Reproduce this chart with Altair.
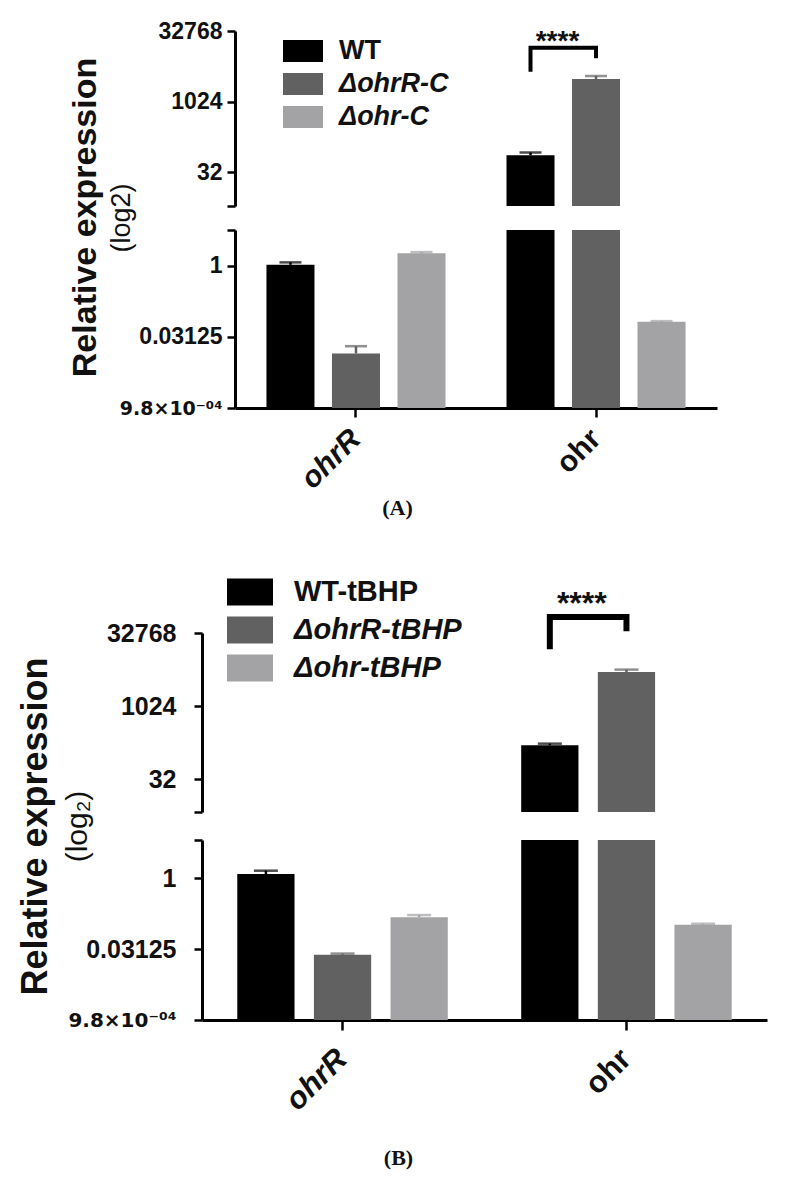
import altair as alt
import pandas as pd

# ---------------- data ----------------
genes = ["ohrR", "ohr"]

strains_a = ["WT", "ΔohrR-C", "Δohr-C"]
mean_a_ohrR = [1.04, 0.0139, 1.82]
mean_a_ohr = [73.5, 3091.0, 0.065]
upper_a_ohrR = [1.17, 0.0198, 1.93]
upper_a_ohr = [83.9, 3590.0, 0.067]

strains_b = ["WT-tBHP", "ΔohrR-tBHP", "Δohr-tBHP"]
mean_b_ohrR = [1.216, 0.0235, 0.148]
mean_b_ohr = [158.6, 5144.0, 0.102]
upper_b_ohrR = [1.43, 0.025, 0.164]
upper_b_ohr = [171.8, 5766.0, 0.107]

bar_colors = ["#000000", "#616161", "#a3a3a5"]

upper_tick_values = [32, 1024, 32768]
upper_tick_labels = ["32", "1024", "32768"]
lower_tick_values = [0.0009765625, 0.03125, 1]
lower_tick_labels = ["9.8×10⁻⁰⁴", "0.03125", "1"]

# broken-axis segments (log2 scale)
a_upper_domain = [6.06, 32768]
a_lower_domain = [0.0009765625, 5.66]
b_upper_domain = [6.7, 32768]
b_lower_domain = [0.0009765625, 6.4]

# significance brackets
bracket_order = [0, 1, 2, 3]
bracket_a_strain = ["WT", "WT", "ΔohrR-C", "ΔohrR-C"]
bracket_a_y = [4427, 14420, 14420, 8550]
bracket_b_strain = ["WT-tBHP", "WT-tBHP", "ΔohrR-tBHP", "ΔohrR-tBHP"]
bracket_b_y = [15100, 70000, 70000, 35400]
stars_text = ["****"]
stars_a_y = [13050]
stars_b_y = [81700]

FONT = "Liberation Sans"


def bars_df(strains, m1, m2, u1, u2):
    rows = []
    for g, ms, us in [("ohrR", m1, u1), ("ohr", m2, u2)]:
        for s, m, u in zip(strains, ms, us):
            rows.append({"gene": g, "strain": s, "mean": m, "upper": u})
    return pd.DataFrame(rows)


def label_expr(values, labels):
    expr = "''"
    for v, lab in zip(values, labels):
        expr = f"abs(datum.value - {v}) < {v * 1e-4} ? '{lab}' : ({expr})"
    return expr


def panel(df, strains, up_dom, lo_dom, g, bracket_df, stars_df):
    left = g["left"]
    width = left + g["plot_w"]
    x_scale = alt.Scale(paddingInner=g["pi"], paddingOuter=g["po"], range=[left, width])
    xo = alt.XOffset("strain:N", sort=strains,
                     scale=alt.Scale(paddingInner=g["pi2"], paddingOuter=g["po2"]))
    half = g["sym_h"]
    legend = alt.Legend(
        orient="none", legendX=left + g["leg_x"], legendY=g["leg_y"], title=None,
        symbolType=f"M-1,-{half}H1V{half}H-1Z", symbolSize=g["sym_size"],
        symbolStrokeWidth=0, symbolOpacity=1, labelFont=FONT,
        labelFontSize=g["leg_fs"], labelFontWeight="bold", labelColor="#111",
        labelOffset=g["leg_off"], rowPadding=g["leg_row"], padding=0, labelLimit=400,
        labelFontStyle={"expr": "indexof(datum.label, 'Δ') >= 0 ? 'italic' : 'normal'"},
    )

    def color(leg):
        return alt.Color("strain:N", sort=strains,
                         scale=alt.Scale(domain=strains, range=bar_colors), legend=leg)

    small_test = "datum.value < 0.002"
    ycommon = dict(domainColor="black", domainWidth=3, tickColor="black", tickWidth=2.5,
                   tickSize=8, labelFontWeight="bold", labelColor="#111",
                   labelPadding=g["lab_pad"],
                   labelFont={"condition": {"test": small_test, "value": "DejaVu Sans"},
                              "value": FONT},
                   labelFontSize={"condition": {"test": small_test, "value": g["tick_fs_small"]},
                                  "value": g["tick_fs"]},
                   labelOverlap=False, labelFlush=False, grid=False, titleAngle=-90,
                   titleAlign="center", titleBaseline="bottom", titleColor="#111",
                   titleFont=FONT, offset=-left)
    up_axis = alt.Axis(values=[up_dom[0]] + upper_tick_values,
                       labelExpr=label_expr(upper_tick_values, upper_tick_labels),
                       title=g["sub_title"], titleFontSize=g["sub_fs"],
                       titleFontWeight="normal", titleX=g["sub_x"], titleY=g["sub_y"],
                       **ycommon)
    lo_axis = alt.Axis(values=lower_tick_values + [lo_dom[1]],
                       labelExpr=label_expr(lower_tick_values, lower_tick_labels),
                       title="Relative expression", titleFontSize=g["main_fs"],
                       titleFontWeight="bold", titleX=g["main_x"], titleY=g["main_y"],
                       **ycommon)
    x_axis = alt.Axis(
        title=g["caption"], titleFont="Liberation Serif", titleFontSize=22,
        titleFontWeight="bold", titleColor="#111", titleX=g["cap_x"], titleY=g["cap_y"],
        titleAngle=0, titleAlign="center", titleBaseline="middle",
        domainColor="black", domainWidth=3, tickColor="black", tickWidth=2.5,
        tickSize=g["xtick"], bandPosition=0.5, labelAngle=-45, labelAlign="right",
        labelBaseline="middle", labelFont=FONT, labelFontSize=g["xlab_fs"],
        labelFontWeight="bold",
        labelFontStyle={"condition": {"test": "datum.value == 'ohrR'", "value": "italic"},
                        "value": "normal"},
        labelColor="#111", labelPadding=g["xlab_pad"], labelOverlap=False)

    # upper segment
    x_up = alt.X("gene:N", sort=genes, scale=x_scale, axis=None)
    y_up = alt.Y("mean:Q", axis=up_axis,
                 scale=alt.Scale(type="log", base=2, domain=up_dom, nice=False, zero=False))
    base_up = alt.Chart(df).encode(x=x_up, xOffset=xo)
    upper = alt.layer(
        base_up.mark_bar(clip=True).encode(y=y_up, y2=alt.datum(1e-9), color=color(legend)),
        base_up.mark_rule(clip=True, strokeWidth=2.5).encode(
            y="mean:Q", y2="upper:Q", color=color(legend)),
        base_up.mark_tick(clip=True, thickness=2.5, size=g["cap"], orient="horizontal").encode(
            y="upper:Q", color=color(legend)),
        alt.Chart(bracket_df).mark_line(color="black", strokeWidth=g["br_w"], clip=False).encode(
            x=x_up, xOffset=xo, y="y:Q", order="i:O"),
        alt.Chart(stars_df).mark_text(font=FONT, fontSize=g["star_fs"], fontWeight="bold",
                                      baseline="alphabetic", align="center", dx=g["star_dx"],
                                      color="#111", clip=False).encode(
            x=x_up, xOffset=xo, y="y:Q", text="t:N"),
    ).properties(width=width, height=g["h_up"])

    # lower segment
    x_lo = alt.X("gene:N", sort=genes, scale=x_scale, axis=x_axis)
    y_lo = alt.Y("mean:Q", axis=lo_axis,
                 scale=alt.Scale(type="log", base=2, domain=lo_dom, nice=False, zero=False))
    base_lo = alt.Chart(df).encode(x=x_lo, xOffset=xo)
    lower = alt.layer(
        base_lo.mark_bar(clip=True).encode(y=y_lo, y2=alt.datum(1e-9), color=color(None)),
        base_lo.mark_rule(clip=True, strokeWidth=2.5).encode(
            y="mean:Q", y2="upper:Q", color=color(None)),
        base_lo.mark_tick(clip=True, thickness=2.5, size=g["cap"], orient="horizontal").encode(
            y="upper:Q", color=color(None)),
    ).properties(width=width, height=g["h_lo"])
    return upper, lower


def spacer(h):
    return alt.Chart(pd.DataFrame({"v": [0]})).mark_point(opacity=0).encode(
        x=alt.value(0), y=alt.value(0)).properties(width=1, height=h)


df_a = bars_df(strains_a, mean_a_ohrR, mean_a_ohr, upper_a_ohrR, upper_a_ohr)
df_b = bars_df(strains_b, mean_b_ohrR, mean_b_ohr, upper_b_ohrR, upper_b_ohr)

br_a = pd.DataFrame({"gene": "ohr", "strain": bracket_a_strain, "y": bracket_a_y, "i": bracket_order})
br_b = pd.DataFrame({"gene": "ohr", "strain": bracket_b_strain, "y": bracket_b_y, "i": bracket_order})
st_a = pd.DataFrame({"gene": ["ohr"], "strain": [strains_a[0]], "y": stars_a_y, "t": stars_text})
st_b = pd.DataFrame({"gene": ["ohr"], "strain": [strains_b[0]], "y": stars_b_y, "t": stars_text})

geo_a = dict(left=33, plot_w=482, h_up=175, h_lo=178,
             pi=0.181, po=0.0945, pi2=0.267, po2=0.134, sym_h=0.55, sym_size=1600,
             leg_x=48, leg_y=0, leg_fs=27, leg_off=16, leg_row=0,
             tick_fs=23, tick_fs_small=19, lab_pad=5,
             sub_title="(log2)", sub_fs=27, sub_x=-100, sub_y=186.5,
             main_fs=34, main_x=-133, main_y=-13,
             caption="(A)", cap_x=195, cap_y=99, xtick=9, xlab_fs=30, xlab_pad=17,
             cap=22, br_w=4, star_fs=28, star_dx=27)
geo_b = dict(left=0, plot_w=565, h_up=179, h_lo=180,
             pi=0.19, po=0.09, pi2=0.253, po2=0.127, sym_h=0.587, sym_size=2116,
             leg_x=25, leg_y=-64, leg_fs=29, leg_off=21, leg_row=0,
             tick_fs=25, tick_fs_small=20, lab_pad=18,
             sub_title="(log₂)", sub_fs=30, sub_x=-110, sub_y=193,
             main_fs=36, main_x=-147.5, main_y=-14,
             caption="(B)", cap_x=196, cap_y=137, xtick=10, xlab_fs=31, xlab_pad=24,
             cap=24, br_w=6, star_fs=32, star_dx=32)

up_a, lo_a = panel(df_a, strains_a, a_upper_domain, a_lower_domain, geo_a, br_a, st_a)
up_b, lo_b = panel(df_b, strains_b, b_upper_domain, b_lower_domain, geo_b, br_b, st_b)

chart = alt.vconcat(
    up_a, spacer(24), lo_a, spacer(225), up_b, spacer(28), lo_b,
    spacing=0, bounds="flush",
).resolve_scale(
    x="independent", y="independent", color="independent", xOffset="independent"
).resolve_legend(color="independent").configure_view(stroke=None).properties(
    padding={"left": 9, "top": 12, "right": 10, "bottom": 10})

chart.save("out.html", embed_options={"renderer": "svg", "actions": False})
